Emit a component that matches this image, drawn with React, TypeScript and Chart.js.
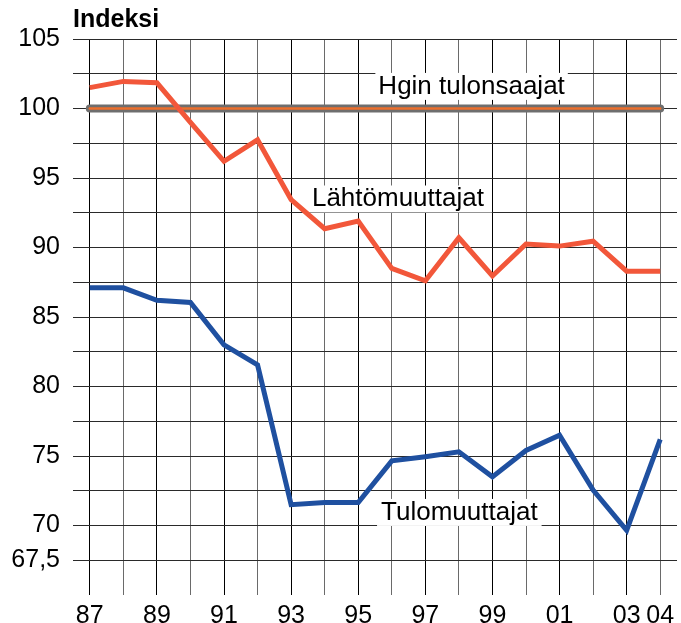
import React, { useEffect, useRef } from 'react';
import { Chart, registerables } from 'chart.js';

Chart.register(...registerables);

// Years (x categories)
const years = ['87', '88', '89', '90', '91', '92', '93', '94', '95', '96', '97', '98', '99', '00', '01', '02', '03', '04'];
const shownYears = ['87', '89', '91', '93', '95', '97', '99', '01', '03', '04'];

// Series values (index, Helsinki income earners = 100)
const hginValues = [100, 100, 100, 100, 100, 100, 100, 100, 100, 100, 100, 100, 100, 100, 100, 100, 100, 100];
const lahtoValues = [101.5, 101.95, 101.85, 99.0, 96.2, 97.75, 93.45, 91.35, 91.9, 88.5, 87.6, 90.7, 87.95, 90.25, 90.1, 90.45, 88.3, 88.3];
const tuloValues = [87.1, 87.1, 86.2, 86.05, 83.0, 81.55, 71.5, 71.65, 71.65, 74.65, 74.95, 75.3, 73.5, 75.4, 76.5, 72.55, 69.65, 76.2];

// Y tick labels
const yTickValues = [105, 100, 95, 90, 85, 80, 75, 70, 67.5];
const yTickTexts = ['105', '100', '95', '90', '85', '80', '75', '70', '67,5'];

// Series name labels
const seriesNames = ['Hgin tulonsaajat', 'Lähtömuuttajat', 'Tulomuuttajat'];

const FONT = '"Liberation Sans", Arial, Helvetica, sans-serif';

const annotations = [
  { text: seriesNames[0], x: 8.6, y: 101.05, padL: 3, padR: 3 },
  { text: seriesNames[1], x: 6.62, y: 92.95, padL: 6, padR: 8 },
  { text: seriesNames[2], x: 8.68, y: 70.4, padL: 4, padR: 4 },
];

const labelPlugin = {
  id: 'seriesLabels',
  beforeDatasetsDraw(chart: any) {
    const { ctx, scales } = chart;
    const xs = scales.x;
    const ys = scales.y;
    ctx.save();
    ctx.font = `26px ${FONT}`;
    ctx.textAlign = 'left';
    ctx.textBaseline = 'alphabetic';
    annotations.forEach((a) => {
      const px = xs.getPixelForValue(a.x);
      const py = ys.getPixelForValue(a.y);
      const w = ctx.measureText(a.text).width;
      ctx.fillStyle = '#ffffff';
      ctx.fillRect(px - a.padL, py - 21, w + a.padL + a.padR, 27);
      ctx.fillStyle = '#000000';
      ctx.fillText(a.text, px, py);
    });
    ctx.restore();
  },
  afterDraw(chart: any) {
    const { ctx, chartArea } = chart;
    ctx.save();
    ctx.font = `bold 25px ${FONT}`;
    ctx.fillStyle = '#000000';
    ctx.textAlign = 'left';
    ctx.textBaseline = 'alphabetic';
    ctx.fillText('Indeksi', chartArea.left, 27);
    ctx.restore();
  },
};

export default function App() {
  const canvasRef = useRef<HTMLCanvasElement | null>(null);

  useEffect(() => {
    document.body.style.margin = '0';
    const canvas = canvasRef.current;
    if (!canvas) return;
    Chart.defaults.font.family = FONT;
    const chart = new Chart(canvas, {
      type: 'line',
      data: {
        labels: years,
        datasets: [
          {
            label: seriesNames[2],
            data: tuloValues,
            borderColor: '#1f50a0',
            borderWidth: 5,
            pointRadius: 0,
            tension: 0,
            borderJoinStyle: 'miter',
          },
          {
            label: seriesNames[1],
            data: lahtoValues,
            borderColor: '#f2573a',
            borderWidth: 5,
            pointRadius: 0,
            tension: 0,
            borderJoinStyle: 'miter',
          },
          {
            label: seriesNames[0] + ' (core)',
            data: hginValues,
            borderColor: '#ec6f2c',
            borderWidth: 2.5,
            pointRadius: 0,
            borderCapStyle: 'round',
          },
          {
            label: seriesNames[0],
            data: hginValues,
            borderColor: '#6e6e6e',
            borderWidth: 8,
            pointRadius: 0,
            borderCapStyle: 'round',
          },
        ],
      },
      options: {
        responsive: false,
        animation: false,
        layout: { padding: { top: 39, right: 4, left: 0, bottom: 0 } },
        plugins: {
          legend: { display: false },
          tooltip: { enabled: false },
          title: { display: false },
        },
        scales: {
          x: {
            type: 'category',
            offset: true,
            border: { display: false },
            grid: {
              offset: false,
              drawTicks: false,
              color: (c: any) => (c.index % 2 === 0 ? '#000000' : '#6a6a6a'),
              lineWidth: 1,
            },
            ticks: {
              autoSkip: false,
              maxRotation: 0,
              padding: 6,
              color: '#000000',
              font: { size: 25, family: FONT },
              callback: (_v: any, i: number) => (shownYears.includes(years[i]) ? years[i] : ''),
            },
            afterFit: (s: any) => {
              s.height = 28;
            },
          },
          y: {
            type: 'linear',
            min: 65,
            max: 105,
            border: { display: false },
            grid: {
              drawTicks: false,
              color: (c: any) => (c.tick && c.tick.value === 65 ? 'rgba(0,0,0,0)' : '#2a2a2a'),
              lineWidth: 1,
            },
            ticks: {
              stepSize: 2.5,
              padding: 13,
              color: '#000000',
              font: { size: 25, family: FONT },
              callback: (v: any) => {
                const idx = yTickValues.indexOf(Number(v));
                return idx >= 0 ? yTickTexts[idx] : '';
              },
            },
            afterFit: (s: any) => {
              s.width = 73;
            },
          },
        },
      },
      plugins: [labelPlugin],
    });
    return () => chart.destroy();
  }, []);

  return (
    <div style={{ position: 'absolute', left: 0, top: 0, width: 681, height: 623 }}>
      <canvas ref={canvasRef} width={681} height={623} />
    </div>
  );
}
